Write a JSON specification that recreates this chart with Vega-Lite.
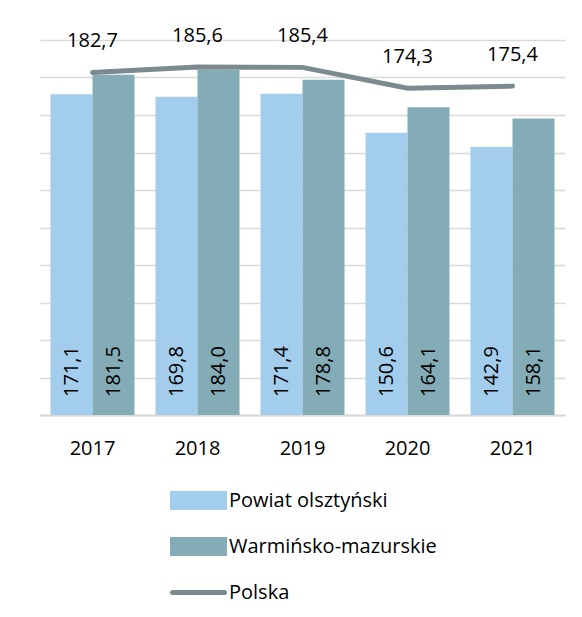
{
  "$schema": "https://vega.github.io/schema/vega-lite/v6.json",
  "width": 525,
  "height": 375,
  "autosize": "none",
  "padding": {"left": 40, "top": 40, "right": 17, "bottom": 202},
  "background": "white",
  "config": {
    "locale": {"number": {"decimal": ",", "thousands": " ", "grouping": [3], "currency": ["", " zł"]}},
    "view": {"stroke": null},
    "font": "Open Sans",
    "axisY": {"values": [0, 20, 40, 60, 80, 100, 120, 140, 160, 180, 200], "labels": false, "ticks": false, "domain": false, "gridColor": "#D9D9D9", "gridWidth": 1.5, "title": null}
  },
  "title": {"text": "masy [kg]", "anchor": "start", "frame": "group", "offset": 40, "baseline": "alphabetic", "dx": -30, "fontSize": 20, "fontWeight": "normal", "color": "#000000"},
  "data": {
    "values": [
      {"year": "2017", "series": "Powiat olsztyński", "value": 171.1},
      {"year": "2018", "series": "Powiat olsztyński", "value": 169.8},
      {"year": "2019", "series": "Powiat olsztyński", "value": 171.4},
      {"year": "2020", "series": "Powiat olsztyński", "value": 150.6},
      {"year": "2021", "series": "Powiat olsztyński", "value": 142.9},
      {"year": "2017", "series": "Warmińsko-mazurskie", "value": 181.5},
      {"year": "2018", "series": "Warmińsko-mazurskie", "value": 184.0},
      {"year": "2019", "series": "Warmińsko-mazurskie", "value": 178.8},
      {"year": "2020", "series": "Warmińsko-mazurskie", "value": 164.1},
      {"year": "2021", "series": "Warmińsko-mazurskie", "value": 158.1},
      {"year": "2017", "series": "Polska", "value": 182.7},
      {"year": "2018", "series": "Polska", "value": 185.6},
      {"year": "2019", "series": "Polska", "value": 185.4},
      {"year": "2020", "series": "Polska", "value": 174.3},
      {"year": "2021", "series": "Polska", "value": 175.4}
    ]
  },
  "encoding": {
    "x": {
      "field": "year", "type": "nominal", "title": null,
      "scale": {"paddingInner": 0.2, "paddingOuter": 0.1},
      "axis": {"labelAngle": 0, "labelFontSize": 20, "labelColor": "#000000", "labelPadding": 23, "ticks": false, "domainColor": "#D9D9D9", "domainWidth": 2, "grid": false}
    }
  },
  "layer": [
    {
      "transform": [{"filter": "datum.series !== 'Polska'"}],
      "mark": {"type": "bar"},
      "encoding": {
        "y": {"field": "value", "type": "quantitative", "title": null,
          "scale": {"domain": [0, 200], "nice": false}},
        "xOffset": {"field": "series", "type": "nominal", "sort": ["Powiat olsztyński", "Warmińsko-mazurskie"], "scale": {"paddingInner": 0, "paddingOuter": 0}},
        "color": {"field": "series", "type": "nominal",
          "scale": {"domain": ["Powiat olsztyński", "Warmińsko-mazurskie", "Polska"], "range": ["#A3CDEC", "#84ACB6", "#7B8B8D"]},
          "legend": {
            "title": null, "orient": "none", "legendX": 130, "legendY": 432,
            "labelFontSize": 20, "labelColor": "#000000", "labelOffset": 2, "labelLimit": 400, "rowPadding": -7,
            "symbolSize": 2704,
            "encode": {"symbols": {"update": {
              "shape": {"signal": "datum.value === 'Polska' ? 'stroke' : 'M-1,-0.27H1V0.27H-1Z'"},
              "fill": {"signal": "datum.value === 'Polska' ? 'transparent' : scale('color', datum.value)"},
              "stroke": {"signal": "datum.value === 'Polska' ? scale('color', datum.value) : 'transparent'"},
              "strokeWidth": {"value": 5},
              "strokeCap": {"value": "round"},
              "size": {"value": 2704},
              "opacity": {"value": 1}
            }}}
          }
        }
      }
    },
    {
      "transform": [{"filter": "datum.series !== 'Polska'"}],
      "mark": {"type": "text", "angle": 270, "align": "left", "baseline": "middle", "dx": 18, "fontSize": 20, "color": "#000000"},
      "encoding": {
        "y": {"datum": 0, "type": "quantitative"},
        "xOffset": {"field": "series", "type": "nominal", "sort": ["Powiat olsztyński", "Warmińsko-mazurskie"]},
        "text": {"field": "value", "type": "quantitative", "format": ".1f"}
      }
    },
    {
      "transform": [{"filter": "datum.series === 'Polska'"}],
      "mark": {"type": "line", "strokeWidth": 5, "strokeCap": "round"},
      "encoding": {
        "y": {"field": "value", "type": "quantitative"},
        "color": {"field": "series", "type": "nominal"}
      }
    },
    {
      "transform": [{"filter": "datum.series === 'Polska'"}],
      "mark": {"type": "text", "baseline": "middle", "dy": -31, "fontSize": 20, "color": "#000000"},
      "encoding": {
        "y": {"field": "value", "type": "quantitative"},
        "text": {"field": "value", "type": "quantitative", "format": ".1f"}
      }
    }
  ]
}
